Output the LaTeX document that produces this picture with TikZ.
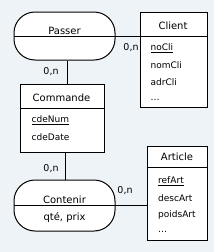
\documentclass[tikz,border=0pt]{standalone}
\usepackage{fontspec}
\setmainfont{DejaVu Sans}
\usetikzlibrary{positioning}
\definecolor{FondBleu}{HTML}{EEF3F7}
\tikzset{
  entite/.style={draw=black, line width=1pt, fill=white, inner sep=0pt},
  assoc/.style={draw=black, line width=1pt, fill=white, rounded corners=21pt, inner sep=0pt},
  titre/.style={font=\fontsize{10}{12}\selectfont, inner sep=0pt},
  attr/.style={font=\fontsize{9}{11}\selectfont, inner sep=0pt, anchor=west},
  card/.style={font=\fontsize{9.5}{11}\selectfont, inner sep=0pt},
  lien/.style={draw=black, line width=1pt}
}
\begin{document}
\begin{tikzpicture}[x=1pt, y=-1pt]
\fill[FondBleu] (0,0) rectangle (214,252);
\useasboundingbox (0,0) rectangle (214,252);
% entites
\node[entite, minimum width=67pt, minimum height=95pt] (client) at (173.5,59.5) {};
\node[entite, minimum width=84pt, minimum height=68pt] (commande) at (62,118) {};
\node[entite, minimum width=60pt, minimum height=94pt] (article) at (177,193) {};
% associations
\node[assoc, minimum width=101pt, minimum height=48pt] (passer) at (64.5,36) {};
\node[assoc, minimum width=101pt, minimum height=51pt] (contenir) at (64.5,205.5) {};
% separateurs
\draw[lien] ([yshift=-25pt]client.north west) -- ([yshift=-25pt]client.north east);
\draw[lien] ([yshift=-25pt]commande.north west) -- ([yshift=-25pt]commande.north east);
\draw[lien] ([yshift=-22pt]article.north west) -- ([yshift=-22pt]article.north east);
% liens
\draw[lien] (passer.west) -- (passer.west -| client.west);
\draw[lien] (contenir.west) -- (contenir.west -| article.west);
\draw[lien] ([xshift=3pt]passer.south) -- ([xshift=3pt]passer.south |- commande.north);
\draw[lien] ([xshift=3pt]commande.south) -- ([xshift=3pt]commande.south |- contenir.north);
% textes
\node[titre] (passerT) at (64.5,31) {Passer};
\node[titre] (contenirT) at (64.5,200) {Contenir};
\node[titre] (contenirA) at (64.5,218) {qté, prix};
\node[titre] (clientT) at (173,25.5) {Client};
\node[titre] (commandeT) at (61.5,98) {Commande};
\node[titre] (articleT) at (177,156.5) {Article};
\node[attr] at (31.5,120) {\underline{cdeNum}};
\node[attr] at (31.5,137.5) {cdeDate};
\foreach \t [count=\i] in {\underline{noCli}, nomCli, adrCli, \ldots}
  \node[attr] at (150.5,{48+17.3*(\i-1)}) {\t};
\foreach \t [count=\i] in {\underline{refArt}, descArt, poidsArt, \ldots}
  \node[attr] at (158,{181+17*(\i-1)}) {\t};
% cardinalites
\node[card] (c1) at (131,48) {0,n};
\node[card] (c2) at (51,72) {0,n};
\node[card] (c3) at (51,169) {0,n};
\node[card] (c4) at (125,191) {0,n};
\end{tikzpicture}
\end{document}
